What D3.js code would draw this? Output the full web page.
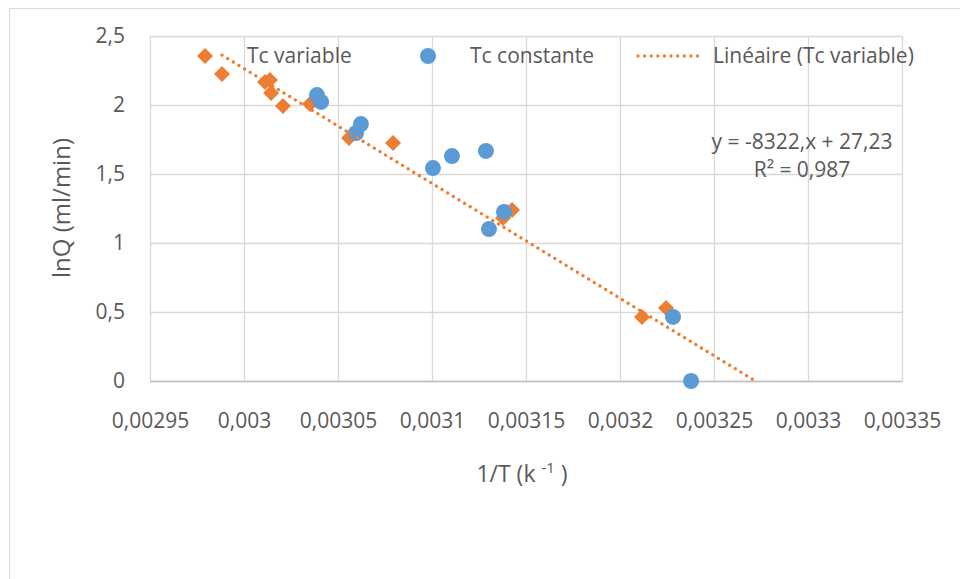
<!DOCTYPE html>
<html>
<head>
<meta charset="utf-8">
<script src="https://cdn.jsdelivr.net/npm/d3@7"></script>
<style>
  body { margin: 0; background: #fff; }
  svg text { font-family: "Open Sans", sans-serif; fill: #595959; }
</style>
</head>
<body>
<div id="chart"></div>
<script>
// data
var tcVariableX = [0.0029883, 0.0030112, 0.0030138, 0.0030144, 0.0030207, 0.0030351, 0.0030559, 0.0030793, 0.0031426, 0.0031378, 0.0032117, 0.0032245];
var tcVariableY = [2.225, 2.167, 2.181, 2.087, 1.993, 2.007, 1.761, 1.725, 1.239, 1.181, 0.464, 0.529];

var tcConstanteX = [0.0030388, 0.003041, 0.0030622, 0.0030596, 0.0031005, 0.0031106, 0.0031287, 0.0031383, 0.0031303, 0.0032282, 0.0032378];
var tcConstanteY = [2.072, 2.022, 1.862, 1.797, 1.543, 1.630, 1.667, 1.225, 1.101, 0.464, 0.0];

// trendline y = -8322x + 27.23, drawn from the first point to the forecast end
var trendSlope = -8322;
var trendIntercept = 27.23;
var trendRange = [0.0029883, 0.003272];

var xTicks = [0.00295, 0.003, 0.00305, 0.0031, 0.00315, 0.0032, 0.00325, 0.0033, 0.00335];
var yTicks = [0, 0.5, 1, 1.5, 2, 2.5];

var seriesNames = ["Tc variable", "Tc constante", "Linéaire (Tc variable)"];
var equationText = "y = -8322,x + 27,23";
var r2Text = "0,987";

var orange = "#ED7D31";
var blue = "#5B9BD5";
var gridColor = "#D9D9D9";

var svgWidth = 960;
var svgHeight = 579;

var svg = d3.select("#chart")
  .append("svg")
  .attr("width", svgWidth)
  .attr("height", svgHeight);

// outer chart border
svg.append("rect")
  .attr("x", 9.5).attr("y", 8.5)
  .attr("width", 960).attr("height", 600)
  .attr("fill", "none")
  .attr("stroke", gridColor);

var xScale = d3.scaleLinear().domain([0.00295, 0.00335]).range([150, 902]);
var yScale = d3.scaleLinear().domain([0, 2.5]).range([381, 36]);

var comma = function(d) { return String(d).replace(".", ","); };

// gridlines
svg.append("g")
  .attr("transform", "translate(0,381)")
  .call(d3.axisBottom(xScale).tickValues(xTicks).tickSize(-345).tickFormat(""))
  .call(function(g) {
    g.select(".domain").remove();
    g.selectAll("line").attr("stroke", gridColor).attr("stroke-width", 1.3);
  });

svg.append("g")
  .attr("transform", "translate(150,0)")
  .call(d3.axisLeft(yScale).tickValues(yTicks).tickSize(-752).tickFormat(""))
  .call(function(g) {
    g.select(".domain").remove();
    g.selectAll("line").attr("stroke", gridColor).attr("stroke-width", 1.3);
  });

// x axis line and labels
svg.append("g")
  .attr("transform", "translate(0,381)")
  .call(d3.axisBottom(xScale).tickValues(xTicks).tickSize(0).tickFormat(comma))
  .call(function(g) {
    g.select(".domain").attr("stroke", "#BFBFBF").attr("stroke-width", 1.5);
    g.selectAll("text")
      .attr("y", 32)
      .attr("font-size", "21px")
      .attr("font-family", "'Open Sans', sans-serif")
      .attr("fill", "#595959");
  });

// y axis labels
svg.append("g")
  .attr("transform", "translate(150,0)")
  .call(d3.axisLeft(yScale).tickValues(yTicks).tickSize(0).tickPadding(25).tickFormat(comma))
  .call(function(g) {
    g.select(".domain").remove();
    g.selectAll("text")
      .attr("font-size", "21px")
      .attr("font-family", "'Open Sans', sans-serif")
      .attr("fill", "#595959");
  });

// axis titles
svg.append("text")
  .attr("transform", "translate(62,208) rotate(-90)")
  .attr("dy", "0.35em")
  .style("text-anchor", "middle")
  .attr("font-size", "24px")
  .text("lnQ (ml/min)");

var xTitle = svg.append("text")
  .attr("x", 522)
  .attr("y", 482)
  .style("text-anchor", "middle")
  .attr("font-size", "23px");
xTitle.append("tspan").text("1/T (k ");
xTitle.append("tspan").attr("font-size", "15px").attr("dy", -9).text("-1");
xTitle.append("tspan").attr("dy", 9).text(" )");

var diamond = d3.symbol().type(d3.symbolSquare).size(128);
var circle = d3.symbol().type(d3.symbolCircle).size(201);

// Tc variable points
svg.selectAll(".diamond")
  .data(d3.range(tcVariableX.length))
  .enter().append("path")
  .attr("class", "diamond")
  .attr("d", diamond)
  .attr("transform", function(i) {
    return "translate(" + xScale(tcVariableX[i]) + "," + yScale(tcVariableY[i]) + ") rotate(45)";
  })
  .attr("fill", orange);

// Tc constante points
svg.selectAll(".dot")
  .data(d3.range(tcConstanteX.length))
  .enter().append("path")
  .attr("class", "dot")
  .attr("d", circle)
  .attr("transform", function(i) {
    return "translate(" + xScale(tcConstanteX[i]) + "," + yScale(tcConstanteY[i]) + ")";
  })
  .attr("fill", blue);

// trendline
var trendLine = d3.line()
  .x(function(d) { return xScale(d); })
  .y(function(d) { return yScale(trendSlope * d + trendIntercept); });

svg.append("path")
  .datum(trendRange)
  .attr("d", trendLine)
  .attr("fill", "none")
  .attr("stroke", orange)
  .attr("stroke-width", 3.3)
  .attr("stroke-linecap", "round")
  .attr("stroke-dasharray", "0.01 6.6");

// equation label
svg.append("text")
  .attr("x", 802).attr("y", 149)
  .style("text-anchor", "middle")
  .attr("font-size", "21px")
  .text(equationText);

svg.append("text")
  .attr("x", 802).attr("y", 177)
  .style("text-anchor", "middle")
  .attr("font-size", "21px")
  .text("R² = " + r2Text);

// legend
var legendY = 56;
svg.append("path")
  .attr("d", diamond)
  .attr("transform", "translate(205," + legendY + ") rotate(45)")
  .attr("fill", orange);
svg.append("text")
  .attr("x", 247).attr("y", legendY).attr("dy", "0.35em")
  .attr("font-size", "21px")
  .text(seriesNames[0]);

svg.append("path")
  .attr("d", circle)
  .attr("transform", "translate(428," + legendY + ")")
  .attr("fill", blue);
svg.append("text")
  .attr("x", 470).attr("y", legendY).attr("dy", "0.35em")
  .attr("font-size", "21px")
  .text(seriesNames[1]);

svg.append("line")
  .attr("x1", 638).attr("x2", 704)
  .attr("y1", legendY).attr("y2", legendY)
  .attr("stroke", orange)
  .attr("stroke-width", 3.3)
  .attr("stroke-linecap", "round")
  .attr("stroke-dasharray", "0.01 6.6");
svg.append("text")
  .attr("x", 713).attr("y", legendY).attr("dy", "0.35em")
  .attr("font-size", "21px")
  .text(seriesNames[2]);
</script>
</body>
</html>
